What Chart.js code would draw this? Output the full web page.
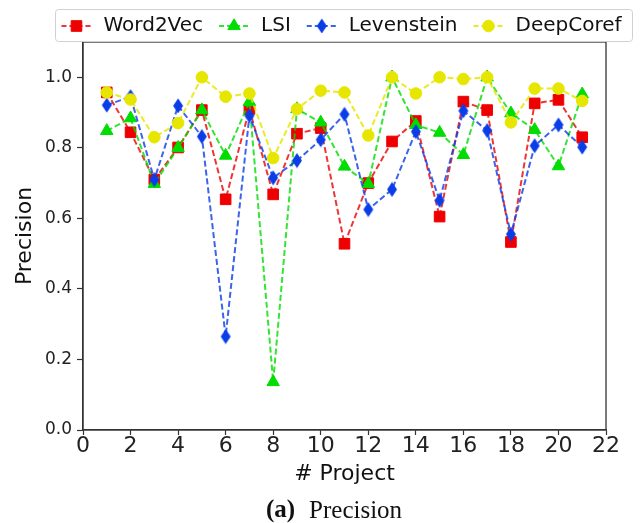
<!DOCTYPE html>
<html>
<head>
<meta charset="utf-8">
<script src="https://cdn.jsdelivr.net/npm/chart.js@4.4.0/dist/chart.umd.min.js"></script>
<style>
  html, body { margin: 0; padding: 0; background: #fff; }
  #wrap { width: 640px; height: 523px; }
</style>
</head>
<body>
<div id="wrap"><canvas id="chart-precision" width="640" height="523"></canvas></div>
<script>
// values
var projects = [1, 2, 3, 4, 5, 6, 7, 8, 9, 10, 11, 12, 13, 14, 15, 16, 17, 18, 19, 20, 21];
var word2vec = [0.957, 0.844, 0.710, 0.801, 0.907, 0.654, 0.910, 0.668, 0.840, 0.856, 0.528,
                0.700, 0.818, 0.876, 0.605, 0.931, 0.907, 0.533, 0.926, 0.936, 0.830];
var lsi = [0.848, 0.884, 0.698, 0.800, 0.907, 0.778, 0.930, 0.136, 0.910, 0.872, 0.747,
           0.698, 1.000, 0.865, 0.843, 0.780, 1.000, 0.898, 0.851, 0.748, 0.952];
var levenstein = [0.921, 0.945, 0.710, 0.919, 0.832, 0.265, 0.891, 0.715, 0.764, 0.823, 0.895,
                  0.625, 0.682, 0.846, 0.651, 0.905, 0.849, 0.555, 0.806, 0.865, 0.802];
var deepcoref = [0.957, 0.937, 0.830, 0.870, 1.000, 0.945, 0.954, 0.771, 0.910, 0.962, 0.957,
                 0.835, 1.000, 0.954, 1.000, 0.995, 1.000, 0.872, 0.968, 0.968, 0.933];
var xTicks = [0, 2, 4, 6, 8, 10, 12, 14, 16, 18, 20, 22];
var yTicks = [0.0, 0.2, 0.4, 0.6, 0.8, 1.0];

var FONT = "'DejaVu Sans', 'Liberation Sans', sans-serif";

// thin diamond marker, like matplotlib 'd'
function thinDiamond(color) {
    var c = document.createElement('canvas');
    c.width = 12; c.height = 16;
    var g = c.getContext('2d');
    g.fillStyle = color;
    g.beginPath();
    g.moveTo(6, 0.5);
    g.lineTo(11, 8);
    g.lineTo(6, 15.5);
    g.lineTo(1, 8);
    g.closePath();
    g.fill();
    return c;
}

function points(ys) {
    return ys.map(function(v, i) { return {x: projects[i], y: v}; });
}

var series = [
    {label: 'Word2Vec', data: word2vec, color: '#ee0000', line: 'rgba(238,0,0,0.8)', style: 'rect', radius: 7.5, order: 4},
    {label: 'LSI', data: lsi, color: '#00dd00', line: 'rgba(0,221,0,0.8)', style: 'triangle', radius: 7.2, order: 3},
    {label: 'Levenstein', data: levenstein, color: '#0a3de8', line: 'rgba(10,61,232,0.8)', style: thinDiamond('#0a3de8'), radius: 6, order: 2},
    {label: 'DeepCoref', data: deepcoref, color: '#e6e600', line: 'rgba(230,230,0,0.85)', style: 'circle', radius: 5.8, order: 1}
];

var datasets = series.map(function(s) {
    return {
        label: s.label,
        data: points(s.data),
        borderColor: s.line,
        backgroundColor: s.color,
        pointBackgroundColor: s.color,
        pointBorderColor: s.color,
        pointBorderWidth: 1,
        pointStyle: s.style,
        pointRadius: s.radius,
        borderWidth: 2,
        borderDash: [6, 3],
        tension: 0,
        fill: false,
        order: s.order
    };
});

// frame, legend box and caption
var extras = {
    id: 'extras',
    afterDraw: function(chart) {
        var ctx = chart.ctx;
        var a = chart.chartArea;
        ctx.save();
        ctx.strokeStyle = '#333';
        ctx.lineWidth = 1.3;
        ctx.strokeRect(a.left, a.top, a.right - a.left, a.bottom - a.top);

        // legend
        var bx = 55, by = 9, bw = 577, bh = 32;
        ctx.fillStyle = 'rgba(255,255,255,0.85)';
        ctx.strokeStyle = '#d0d0d0';
        ctx.lineWidth = 1;
        ctx.beginPath();
        ctx.roundRect(bx + 0.5, by + 0.5, bw, bh, 3);
        ctx.fill();
        ctx.stroke();

        ctx.font = '20px ' + FONT;
        var symW = 30, gap = 12, sep = 16;
        var total = 0;
        series.forEach(function(s, i) {
            total += symW + gap + ctx.measureText(s.label).width + (i ? sep : 0);
        });
        var x = bx + (bw - total) / 2 - 2;
        var cy = by + bh / 2 + 1;
        series.forEach(function(s) {
            ctx.strokeStyle = s.line;
            ctx.lineWidth = 2;
            ctx.setLineDash([5, 3]);
            ctx.beginPath();
            ctx.moveTo(x, cy);
            ctx.lineTo(x + symW, cy);
            ctx.stroke();
            ctx.setLineDash([]);
            ctx.fillStyle = s.color;
            ctx.strokeStyle = s.color;
            ctx.lineWidth = 1;
            Chart.helpers.drawPoint(ctx, {pointStyle: s.style, radius: s.radius, borderWidth: 1}, x + symW / 2, cy);
            ctx.fillStyle = '#111';
            ctx.textBaseline = 'middle';
            ctx.textAlign = 'left';
            ctx.fillText(s.label, x + symW + gap, cy);
            x += symW + gap + ctx.measureText(s.label).width + sep;
        });

        // caption
        ctx.fillStyle = '#111';
        ctx.textBaseline = 'middle';
        ctx.font = 'bold 25px "Liberation Serif", serif';
        var capA = '(a)';
        var capB = 'Precision';
        var wA = ctx.measureText(capA).width;
        ctx.font = '25px "Liberation Serif", serif';
        var wB = ctx.measureText(capB).width;
        var cx = 334 - (wA + 14 + wB) / 2;
        ctx.font = 'bold 25px "Liberation Serif", serif';
        ctx.fillText(capA, cx, 511);
        ctx.font = '25px "Liberation Serif", serif';
        ctx.fillText(capB, cx + wA + 14, 511);
        ctx.restore();
    }
};

window.onload = function() {
    var ctx = document.getElementById('chart-precision').getContext('2d');
    window.myLine = new Chart(ctx, {
        type: 'line',
        data: {datasets: datasets},
        options: {
            responsive: false,
            animation: false,
            layout: {padding: {top: 42, right: 34, left: 0, bottom: 0}},
            plugins: {
                legend: {display: false},
                tooltip: {enabled: false}
            },
            scales: {
                x: {
                    type: 'linear',
                    min: 0,
                    max: 22,
                    afterFit: function(scale) { scale.height = 93; },
                    afterBuildTicks: function(scale) {
                        scale.ticks = xTicks.map(function(v) { return {value: v}; });
                    },
                    grid: {drawOnChartArea: false, tickLength: 5, tickColor: '#333', tickWidth: 1.2},
                    border: {display: true, color: '#333', width: 1.3},
                    ticks: {
                        color: '#222',
                        padding: -2,
                        font: {family: FONT, size: 22},
                        maxRotation: 0,
                        autoSkip: false
                    },
                    title: {
                        display: true,
                        text: '# Project',
                        color: '#111',
                        font: {family: FONT, size: 22},
                        padding: {top: 0, bottom: 36}
                    }
                },
                y: {
                    min: 0,
                    max: 1.1,
                    afterFit: function(scale) { scale.width = 83; },
                    afterBuildTicks: function(scale) {
                        scale.ticks = yTicks.map(function(v) { return {value: v}; });
                    },
                    grid: {drawOnChartArea: false, tickLength: 6, tickColor: '#333', tickWidth: 1.2},
                    border: {display: true, color: '#333', width: 1.3},
                    ticks: {
                        color: '#222',
                        padding: 5,
                        font: {family: FONT, size: 17},
                        callback: function(v) { return Number(v).toFixed(1); }
                    },
                    title: {
                        display: true,
                        text: 'Precision',
                        color: '#111',
                        font: {family: FONT, size: 22},
                        padding: {top: 12, bottom: 0}
                    }
                }
            }
        },
        plugins: [extras]
    });
};
</script>
</body>
</html>
